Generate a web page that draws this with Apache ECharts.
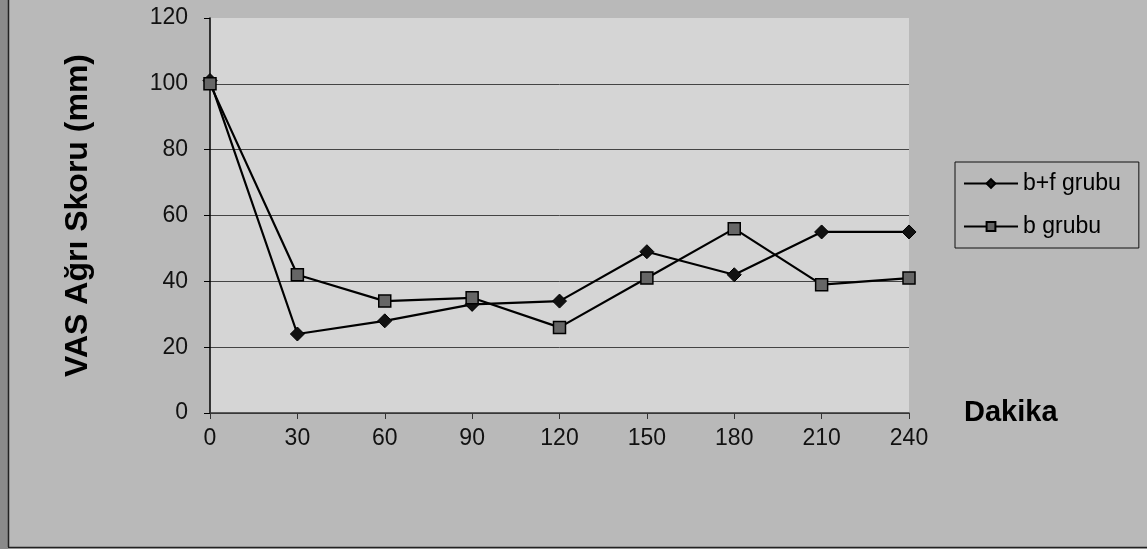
<!DOCTYPE html>
<html>
<head>
<meta charset="utf-8">
<script src="https://cdn.jsdelivr.net/npm/echarts@6/dist/echarts.min.js"></script>
<style>
html,body{margin:0;padding:0;background:#b9b9b9;}
#c{width:1147px;height:549px;}
</style>
</head>
<body>
<div id="c"></div>
<script>
const categories = ['0','30','60','90','120','150','180','210','240'];
const bfGroup = [101, 24, 28, 33, 34, 49, 42, 55, 55];
const bGroup = [100, 42, 34, 35, 26, 41, 56, 39, 41];
const seriesNames = ['b+f grubu', 'b grubu'];
const yTitle = 'VAS Ağrı Skoru (mm)';
const xTitle = 'Dakika';

const chart = echarts.init(document.getElementById('c'), null, {renderer:'canvas'});
const font = '"Liberation Sans", Arial, sans-serif';
chart.setOption({
  backgroundColor: '#b9b9b9',
  animation: false,
  graphic: [
    {type:'rect', left:0, top:0, shape:{width:8, height:549}, style:{fill:'#8a8a8a'}, silent:true},
    {type:'line', shape:{x1:8.5, y1:0, x2:8.5, y2:547}, style:{stroke:'#222', lineWidth:1.5}},
    {type:'line', shape:{x1:8, y1:547.5, x2:1147, y2:547.5}, style:{stroke:'#222', lineWidth:1.5}}
  ],
  grid: {left:210, right:238, top:18, bottom:136, show:true, backgroundColor:'#d5d5d5', borderWidth:0},
  legend: {
    orient:'vertical', left:955, top:162, width:185,
    data: seriesNames,
    itemWidth:54, itemHeight:11, itemGap:20,
    padding:[10,18,10,8],
    borderColor:'#111', borderWidth:1,
    textStyle:{fontFamily:font, fontSize:23, color:'#000'}
  },
  xAxis: {
    type:'category', data:categories, boundaryGap:false,
    name: xTitle, nameLocation:'end', nameGap:55,
    nameTextStyle:{fontFamily:font, fontSize:29, fontWeight:'bold', color:'#000', padding:[22,0,0,0]},
    axisLine:{lineStyle:{color:'#333', width:1.5}},
    axisTick:{show:true, alignWithLabel:true, length:6, lineStyle:{color:'#333'}},
    axisLabel:{fontFamily:font, fontSize:23, color:'#111', margin:14}
  },
  yAxis: {
    type:'value', min:0, max:120, interval:20,
    name: yTitle, nameLocation:'middle', nameGap:116,
    nameTextStyle:{fontFamily:font, fontSize:32, fontWeight:'bold', color:'#000'},
    axisLine:{show:true, lineStyle:{color:'#000', width:1.5}},
    axisTick:{show:true, length:6, lineStyle:{color:'#000'}},
    axisLabel:{fontFamily:font, fontSize:23, color:'#111', margin:22},
    splitLine:{show:true, lineStyle:{color:['#444','#444','#444','#444','#444','#444','rgba(0,0,0,0)'], width:1}}
  },
  series: [
    {
      name: seriesNames[0], type:'line', data: bfGroup,
      symbol:'diamond', symbolSize:14,
      lineStyle:{color:'#000', width:2.2},
      itemStyle:{color:'#111', borderColor:'#000', borderWidth:1}
    },
    {
      name: seriesNames[1], type:'line', data: bGroup,
      symbol:'rect', symbolSize:12,
      lineStyle:{color:'#000', width:2.2},
      itemStyle:{color:'#666', borderColor:'#000', borderWidth:1.5}
    }
  ]
});
</script>
</body>
</html>
